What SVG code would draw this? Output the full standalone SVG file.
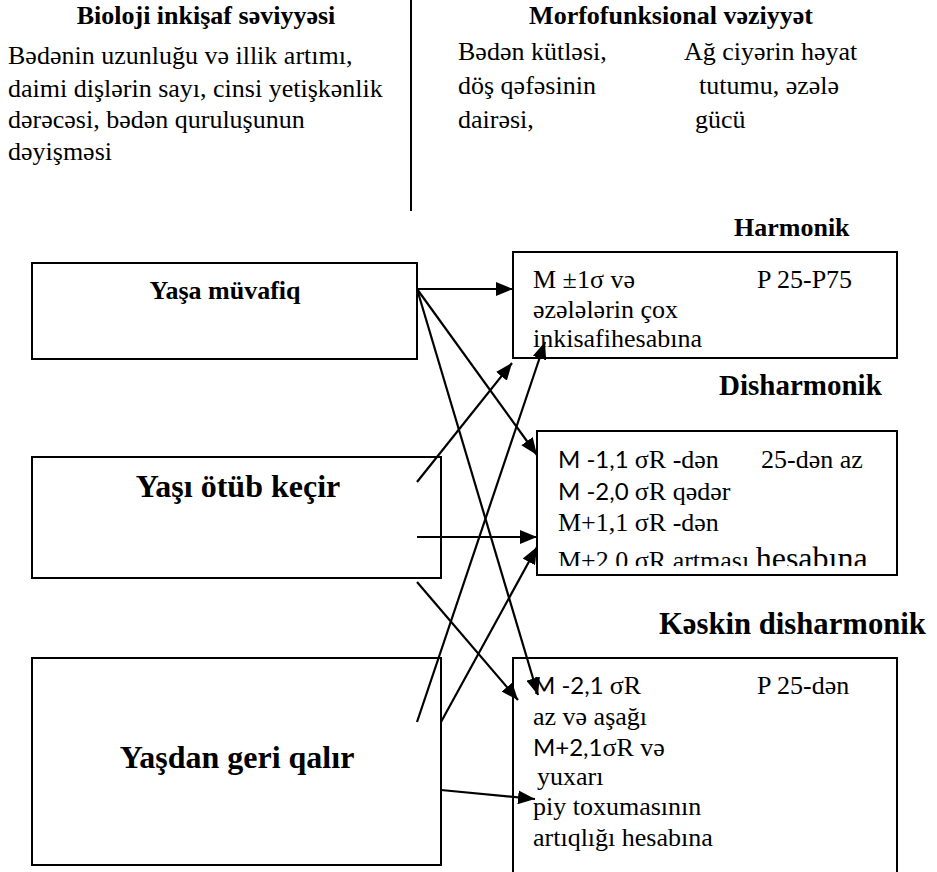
<svg xmlns="http://www.w3.org/2000/svg" width="937" height="872" viewBox="0 0 937 872">
<style>
  .t{font-family:"Liberation Serif","DejaVu Serif","Times New Roman",serif;font-size:26px;fill:#000}
  .b{font-weight:bold}
  .s{font-family:Lato,"Liberation Sans",sans-serif;font-size:24px}
  .box{fill:#fff;stroke:#000;stroke-width:2}
  .c{stroke:#000;stroke-width:2.2;fill:none;marker-end:url(#ah)}
</style>
<defs>
  <marker id="ah" markerUnits="userSpaceOnUse" markerWidth="18" markerHeight="14" refX="17" refY="7" orient="auto">
    <path d="M0,0 L17,7 L0,14 z" fill="#000"/>
  </marker>
  <clipPath id="dclip"><rect x="537" y="431" width="360" height="135"/></clipPath>
</defs>
<rect width="937" height="872" fill="#fff"/>

<g id="header-left">
  <text class="t b" x="206" y="24" text-anchor="middle">Bioloji inkişaf səviyyəsi</text>
  <text class="t" x="8" y="64">Bədənin uzunluğu və illik artımı,</text>
  <text class="t" x="8" y="97">daimi dişlərin sayı, cinsi yetişkənlik</text>
  <text class="t" x="8" y="128">dərəcəsi, bədən quruluşunun</text>
  <text class="t" x="8" y="160">dəyişməsi</text>
</g>
<line x1="411" y1="0" x2="411" y2="211" stroke="#000" stroke-width="2"/>
<g id="header-right">
  <text class="t b" x="671" y="24" text-anchor="middle">Morfofunksional vəziyyət</text>
  <text class="t" x="458" y="60">Bədən kütləsi,</text>
  <text class="t" x="458" y="94">döş qəfəsinin</text>
  <text class="t" x="458" y="128">dairəsi,</text>
  <text class="t" x="684" y="60">Ağ ciyərin həyat</text>
  <text class="t" x="699" y="94">tutumu, əzələ</text>
  <text class="t" x="695" y="128">gücü</text>
</g>

<g id="yasa-muvafiq">
  <rect class="box" x="32" y="263" width="385" height="96"/>
  <text class="t b" x="225" y="299" text-anchor="middle">Yaşa müvafiq</text>
</g>
<g id="yasi-otub-kecir">
  <rect class="box" x="32" y="457" width="409" height="121"/>
  <text class="t b" x="238" y="497" text-anchor="middle" style="font-size:32px">Yaşı ötüb keçir</text>
</g>
<g id="yasdan-geri-qalir">
  <rect class="box" x="32" y="658" width="409" height="207"/>
  <text class="t b" x="237" y="768" text-anchor="middle" style="font-size:32px">Yaşdan geri qalır</text>
</g>

<g id="harmonik">
  <text class="t b" x="734" y="236">Harmonik</text>
  <rect class="box" x="513" y="252" width="384" height="106"/>
  <text class="t" x="533" y="288">M ±1σ və</text>
  <text class="t" x="757" y="288">P 25-P75</text>
  <text class="t" x="533" y="318">əzələlərin çox</text>
  <text class="t" x="533" y="347">inkisafihesabına</text>
</g>
<g id="disharmonik">
  <text class="t b" x="719" y="395" style="font-size:29px">Disharmonik</text>
  <rect class="box" x="537" y="431" width="360" height="144"/>
  <text class="t" x="558" y="468"><tspan class="s">M -1,1 </tspan>σR -dən</text>
  <text class="t" x="761" y="468">25-dən az</text>
  <text class="t" x="558" y="500"><tspan class="s">M -2,0 </tspan>σR qədər</text>
  <text class="t" x="558" y="531">M+1,1 σR -dən</text>
  <text class="t" x="558" y="569" clip-path="url(#dclip)">M+2,0 σR artması <tspan style="font-size:32px">hesabına</tspan></text>
</g>
<g id="keskin-disharmonik">
  <text class="t b" x="659" y="634" style="font-size:30.7px">Kəskin disharmonik</text>
  <rect class="box" x="513" y="658" width="384" height="230"/>
  <text class="t" x="533" y="694"><tspan class="s">M -2,1 </tspan>σR</text>
  <text class="t" x="757" y="694">P 25-dən</text>
  <text class="t" x="533" y="725">az və aşağı</text>
  <text class="t" x="533" y="756"><tspan class="s">M+2,1</tspan>σR və</text>
  <text class="t" x="537" y="785">yuxarı</text>
  <text class="t" x="533" y="815">piy toxumasının</text>
  <text class="t" x="533" y="846">artıqlığı hesabına</text>
</g>

<g id="connectors">
  <line class="c" x1="417" y1="289" x2="513" y2="289"/>
  <line class="c" x1="417" y1="289" x2="537" y2="455"/>
  <line class="c" x1="417" y1="289" x2="538" y2="695"/>
  <line class="c" x1="417" y1="482" x2="512" y2="363"/>
  <line class="c" x1="417" y1="537" x2="537" y2="537"/>
  <line class="c" x1="417" y1="582" x2="518" y2="700"/>
  <line class="c" x1="417" y1="722" x2="545" y2="342"/>
  <line class="c" x1="441" y1="722" x2="537" y2="547"/>
  <line class="c" x1="441" y1="790" x2="535" y2="799"/>
</g>
</svg>
